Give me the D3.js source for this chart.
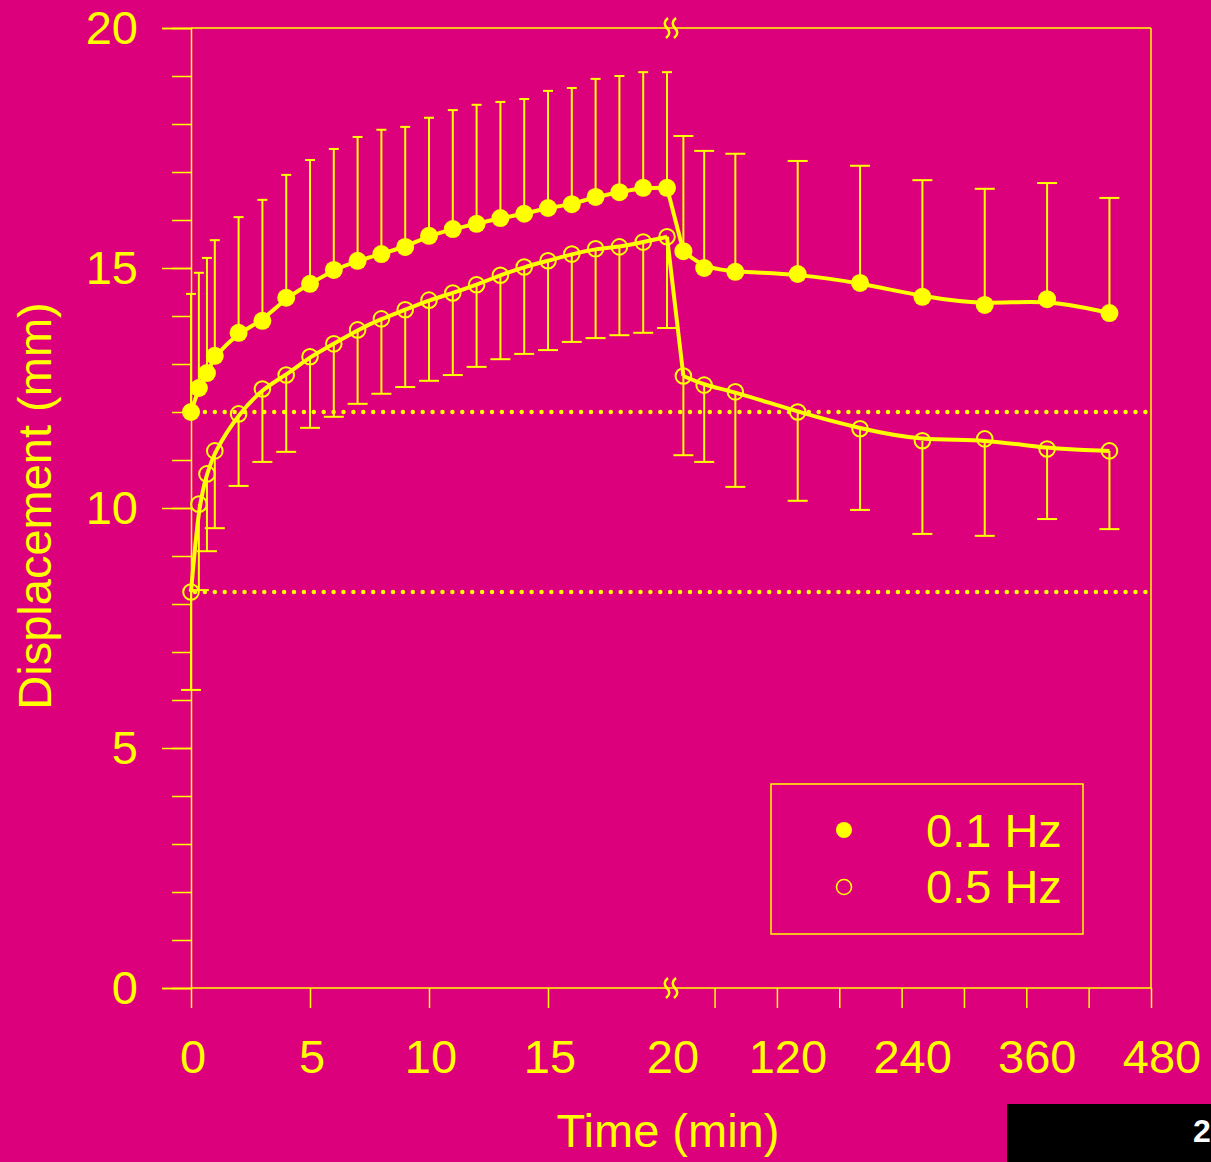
<!DOCTYPE html>
<html>
<head>
<meta charset="utf-8">
<script src="https://cdn.jsdelivr.net/npm/d3@7"></script>
<style>
  html, body { margin: 0; padding: 0; background: #dc007d; overflow: hidden; }
  text { font-family: "Liberation Sans", Arial, sans-serif; }
</style>
</head>
<body>
<div id="container"></div>
<script>
// loading phase (0-20 min) and recovery phase (after the break)
let timeA = [0, 0.33, 0.67, 1, 2, 3, 4, 5, 6, 7, 8, 9, 10, 11, 12, 13, 14, 15, 16, 17, 18, 19, 20];
let timeB = [30, 50, 80, 140, 200, 260, 320, 380, 440];

// 0.1 Hz (filled) - mean and top of the error bar
let mean01A = [12.0, 12.5, 12.81, 13.17, 13.65, 13.9, 14.38, 14.67, 14.96, 15.15, 15.29, 15.44, 15.67, 15.81, 15.92, 16.04, 16.13, 16.25, 16.33, 16.48, 16.58, 16.67, 16.67];
let upper01A = [14.46, 14.9, 15.21, 15.58, 16.06, 16.42, 16.94, 17.25, 17.48, 17.73, 17.88, 17.94, 18.13, 18.29, 18.4, 18.46, 18.52, 18.69, 18.75, 18.94, 19.0, 19.08, 19.08];
let mean01B = [15.35, 15.0, 14.92, 14.875, 14.69, 14.4, 14.23, 14.35, 14.06];
let upper01B = [17.75, 17.44, 17.38, 17.23, 17.13, 16.83, 16.65, 16.77, 16.46];

// 0.5 Hz (open) - mean and bottom of the error bar
let mean05A = [8.25, 10.08, 10.71, 11.19, 11.96, 12.48, 12.77, 13.15, 13.42, 13.71, 13.94, 14.13, 14.33, 14.48, 14.65, 14.85, 15.02, 15.15, 15.29, 15.4, 15.44, 15.54, 15.65];
let lower05A = [6.21, 8.29, 9.1, 9.58, 10.46, 10.96, 11.17, 11.67, 11.9, 12.17, 12.38, 12.52, 12.65, 12.77, 12.94, 13.1, 13.21, 13.29, 13.46, 13.54, 13.6, 13.65, 13.75];
let mean05B = [12.75, 12.56, 12.42, 12.0, 11.65, 11.4, 11.44, 11.23, 11.19];
let lower05B = [11.1, 10.96, 10.44, 10.15, 9.96, 9.46, 9.42, 9.77, 9.56];

// dotted baseline levels
let baselines = [12.0, 8.25];

let xTicksA = [0, 5, 10, 15];
let xTicksB = [60, 120, 180, 240, 300, 360, 420, 480];
let xLabels = [0, 5, 10, 15, 20, 120, 240, 360, 480];
let yLabels = [0, 5, 10, 15, 20];
let legendNames = ["0.1 Hz", "0.5 Hz"];

let yellow = "#ffff00";
let w = 1211;
let h = 1162;

let viz = d3.select("#container")
  .append("svg")
  .attr("width", w)
  .attr("height", h)
  .style("background-color", "#dc007d");

let xA = d3.scaleLinear().domain([0, 20]).range([191, 667]);
let xB = d3.scaleLinear().domain([20, 480]).range([673, 1151]);
let yScale = d3.scaleLinear().domain([0, 20]).range([988, 28]);

function xPos(t, second) {
  return second ? xB(t) : xA(t);
}

// build point records
function makePoints(times, means, ends, second) {
  return times.map((t, i) => ({ t: t, v: means[i], e: ends[i], second: second }));
}
let pts01 = makePoints(timeA, mean01A, upper01A, false).concat(makePoints(timeB, mean01B, upper01B, true));
let pts05 = makePoints(timeA, mean05A, lower05A, false).concat(makePoints(timeB, mean05B, lower05B, true));

// dotted baselines
viz.selectAll(".baseline")
  .data(baselines)
  .enter()
  .append("line")
  .attr("x1", xA(0) + 4)
  .attr("x2", xB(480))
  .attr("y1", d => yScale(d))
  .attr("y2", d => yScale(d))
  .attr("stroke", yellow)
  .attr("stroke-width", 4.5)
  .attr("stroke-linecap", "round")
  .attr("stroke-dasharray", "0,9.9");

// y axis: minor ticks then major ticks with labels
viz.append("g")
  .attr("transform", "translate(191,0)")
  .call(d3.axisLeft(yScale).tickValues(d3.range(0, 21, 1)).tickSize(19).tickFormat(""))
  .call(g => g.select(".domain").remove());

let yAxis = viz.append("g")
  .attr("transform", "translate(191,0)")
  .call(d3.axisLeft(yScale).tickValues(yLabels).tickSize(29).tickPadding(24));
yAxis.selectAll("text").attr("font-size", 47).attr("fill", yellow).attr("font-family", "Liberation Sans, Arial, sans-serif");

// x axis ticks
viz.append("g")
  .attr("transform", "translate(0,988)")
  .call(d3.axisBottom(xA).tickValues(xTicksA).tickSize(20).tickFormat(""))
  .call(g => g.select(".domain").remove());
viz.append("g")
  .attr("transform", "translate(0,988)")
  .call(d3.axisBottom(xB).tickValues(xTicksB).tickSize(20).tickFormat(""))
  .call(g => g.select(".domain").remove());

viz.selectAll(".tick line").attr("stroke", yellow).attr("stroke-width", 1.5);
viz.selectAll(".domain").attr("stroke", yellow).attr("stroke-width", 1.5);

// frame: bottom, top, right
viz.append("line").attr("x1", 191).attr("x2", 1151).attr("y1", 988).attr("y2", 988)
  .attr("stroke", yellow).attr("stroke-width", 1.5);
viz.append("line").attr("x1", 191).attr("x2", 1151).attr("y1", 28).attr("y2", 28)
  .attr("stroke", yellow).attr("stroke-width", 1.5);
viz.append("line").attr("x1", 1151).attr("x2", 1151).attr("y1", 28).attr("y2", 988)
  .attr("stroke", yellow).attr("stroke-width", 1.5);

// axis break marks
let breakX = (xA(20) + xB(20)) / 2;
[28, 988].forEach(yy => {
  [breakX - 3, breakX + 5].forEach(cx => {
    viz.append("path")
      .attr("d", `M${cx + 1},${yy - 10} Q${cx - 5},${yy - 5} ${cx},${yy} Q${cx + 5},${yy + 5} ${cx - 1},${yy + 10}`)
      .attr("fill", "none")
      .attr("stroke", yellow)
      .attr("stroke-width", 2.5);
  });
});

// x labels
viz.selectAll(".xlabel")
  .data(xLabels)
  .enter()
  .append("text")
  .attr("x", d => d < 20 ? xA(d) + 2 : (d == 20 ? xB(20) : xB(d) + 11))
  .attr("y", 1073)
  .attr("text-anchor", "middle")
  .attr("font-size", 47)
  .attr("fill", yellow)
  .text(d => d);

// axis titles
viz.append("text")
  .attr("x", 668)
  .attr("y", 1147)
  .attr("text-anchor", "middle")
  .attr("font-size", 47)
  .attr("fill", yellow)
  .text("Time (min)");

viz.append("text")
  .attr("transform", "translate(51,506) rotate(-90)")
  .attr("text-anchor", "middle")
  .attr("font-size", 47)
  .attr("fill", yellow)
  .text("Displacement (mm)");

// error bars
function drawBars(data, capA) {
  let g = viz.append("g").attr("stroke", yellow).attr("stroke-width", 2);
  g.selectAll("line.bar")
    .data(data)
    .enter()
    .append("line")
    .attr("x1", d => xPos(d.t, d.second))
    .attr("x2", d => xPos(d.t, d.second))
    .attr("y1", d => yScale(d.v))
    .attr("y2", d => yScale(d.e));
  g.selectAll("line.cap")
    .data(data)
    .enter()
    .append("line")
    .attr("x1", d => xPos(d.t, d.second) - (d.second ? 10 : capA))
    .attr("x2", d => xPos(d.t, d.second) + (d.second ? 10 : capA))
    .attr("y1", d => yScale(d.e))
    .attr("y2", d => yScale(d.e));
}
drawBars(pts01, 5);
drawBars(pts05, 10);

// curves
function drawCurve(data) {
  let first = data.filter(d => !d.second);
  let second = data.filter(d => d.second);
  let lineMaker = d3.line()
    .x(d => xPos(d.t, d.second))
    .y(d => yScale(d.v))
    .curve(d3.curveBasis);
  let straight = d3.line()
    .x(d => xPos(d.t, d.second))
    .y(d => yScale(d.v));
  [lineMaker(first), straight([first[first.length - 1], second[0]]), lineMaker(second)].forEach(p => {
    viz.append("path")
      .attr("d", p)
      .attr("fill", "none")
      .attr("stroke", yellow)
      .attr("stroke-width", 4)
      .attr("stroke-linejoin", "round");
  });
}
drawCurve(pts01);
drawCurve(pts05);

// points
viz.selectAll(".dot01")
  .data(pts01)
  .enter()
  .append("circle")
  .attr("cx", d => xPos(d.t, d.second))
  .attr("cy", d => yScale(d.v))
  .attr("r", 9)
  .attr("fill", yellow);

viz.selectAll(".dot05")
  .data(pts05)
  .enter()
  .append("circle")
  .attr("cx", d => xPos(d.t, d.second))
  .attr("cy", d => yScale(d.v))
  .attr("r", 7.8)
  .attr("fill", "none")
  .attr("stroke", yellow)
  .attr("stroke-width", 2);

// legend
let legend = viz.append("g");
legend.append("rect")
  .attr("x", 771).attr("y", 784).attr("width", 312).attr("height", 150)
  .attr("fill", "none").attr("stroke", yellow).attr("stroke-width", 1.5);
legend.append("circle").attr("cx", 844).attr("cy", 830).attr("r", 8).attr("fill", yellow);
legend.append("circle").attr("cx", 844).attr("cy", 887).attr("r", 7.5)
  .attr("fill", "none").attr("stroke", yellow).attr("stroke-width", 1.6);
legend.selectAll("text")
  .data(legendNames)
  .enter()
  .append("text")
  .attr("x", 926)
  .attr("y", (d, i) => 847 + i * 56)
  .attr("font-size", 47)
  .attr("fill", yellow)
  .text(d => d);

// black corner box
viz.append("rect").attr("x", 1007).attr("y", 1104).attr("width", 210).attr("height", 70).attr("fill", "#000");
viz.append("text")
  .attr("x", 1193).attr("y", 1142)
  .attr("font-size", 32).attr("font-weight", "bold")
  .attr("fill", "#fff")
  .text("2");
</script>
</body>
</html>
